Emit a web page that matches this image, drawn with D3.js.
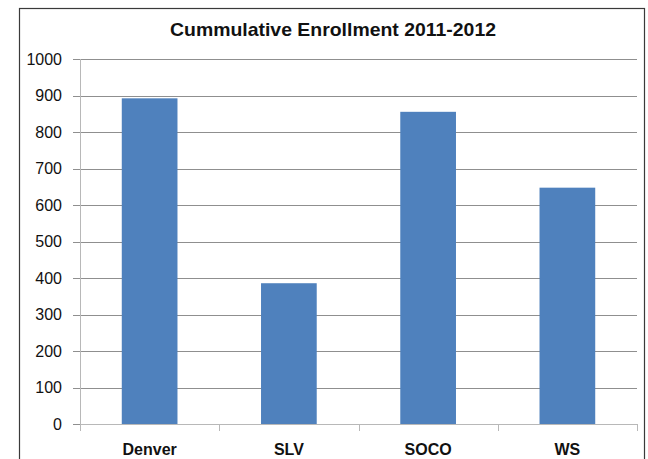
<!DOCTYPE html>
<html><head><meta charset="utf-8">
<script src="https://cdn.jsdelivr.net/npm/d3@7"></script>
<style>html,body{margin:0;padding:0;background:#fff;}svg{display:block;}</style>
</head><body>
<script>
const categories = ["Denver", "SLV", "SOCO", "WS"];
const values = [893, 386, 856, 648];
const yTicks = [0, 100, 200, 300, 400, 500, 600, 700, 800, 900, 1000];
const title = "Cummulative Enrollment 2011-2012";

(function () {
const W = 648, H = 459;
const svg = d3.select("body").append("svg").attr("width", W).attr("height", H);

// outer frame
svg.append("rect").attr("x", 19.5).attr("y", 8.5).attr("width", 625).attr("height", 470)
  .attr("fill", "#fff").attr("stroke", "#3a3a3a").attr("stroke-width", 1.2);

const pLeft = 80, pRight = 637, pTop = 59.3, pBottom = 424;
const x = d3.scaleBand().domain(categories).range([pLeft, pRight]).paddingInner(0.6).paddingOuter(0.3);
const y = d3.scaleLinear().domain([0, 1000]).range([pBottom, pTop]);

// gridlines
svg.append("g").selectAll("line").data(yTicks).join("line")
  .attr("x1", pLeft - 7).attr("x2", pRight)
  .attr("y1", d => Math.round(y(d)) + 0.5).attr("y2", d => Math.round(y(d)) + 0.5)
  .attr("stroke", "#8f8f8f").attr("stroke-width", 1);

// y axis line
svg.append("line").attr("x1", pLeft + 0.5).attr("x2", pLeft + 0.5)
  .attr("y1", Math.round(pTop)).attr("y2", pBottom + 1)
  .attr("stroke", "#b8b8b8");

// y labels
svg.append("g").selectAll("text").data(yTicks).join("text")
  .attr("x", 62).attr("y", d => y(d)).attr("dy", "0.35em")
  .attr("text-anchor", "end")
  .attr("font-family", "Liberation Sans, Arial, sans-serif").attr("font-size", 16)
  .attr("fill", "#111").text(d => d);

// bars
svg.append("g").selectAll("rect").data(values).join("rect")
  .attr("x", (d, i) => x(categories[i])).attr("width", x.bandwidth())
  .attr("y", d => y(d)).attr("height", d => y(0) - y(d))
  .attr("fill", "#4F81BD");

// x axis line and labels
const xAxis = d3.axisBottom(x).tickSize(0).tickSizeOuter(0);
const xg = svg.append("g").attr("transform", `translate(0,${Math.round(pBottom) + 0.5})`).call(xAxis);
xg.select(".domain").attr("stroke", "#b8b8b8").attr("d", `M${pLeft},0H${pRight}`);
xg.selectAll("text").attr("font-family", "Liberation Sans, Arial, sans-serif").attr("font-size", 16)
  .attr("font-weight", "bold").attr("fill", "#111").attr("y", 30.5).attr("dy", 0);
const bounds = [pLeft].concat(categories.slice(1).map(c => x(c) - x.step() * x.paddingInner() / 2)).concat([pRight]);
svg.append("g").selectAll("line").data(bounds).join("line")
  .attr("x1", d => Math.round(d) + 0.5).attr("x2", d => Math.round(d) + 0.5)
  .attr("y1", pBottom).attr("y2", pBottom + 7).attr("stroke", "#b8b8b8");

// title
svg.append("text").attr("x", 333).attr("y", 36).attr("text-anchor", "middle")
  .attr("font-family", "Liberation Sans, Arial, sans-serif").attr("font-size", 18.5)
  .attr("textLength", 326).attr("lengthAdjust", "spacingAndGlyphs")
  .attr("font-weight", "bold").attr("fill", "#111").text(title);
})();
</script>
</body></html>
